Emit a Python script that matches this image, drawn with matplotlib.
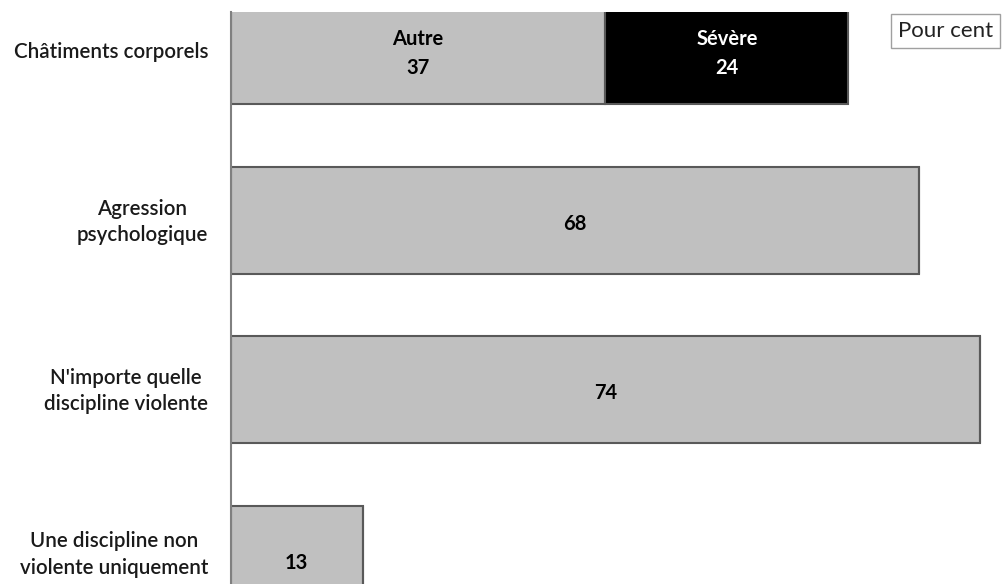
import matplotlib
matplotlib.use("Agg")
import matplotlib.pyplot as plt
from matplotlib.transforms import offset_copy

categories = ["Châtiments corporels", "Agression\npsychologique",
              "N'importe quelle\ndiscipline violente", "Une discipline non\nviolente uniquement"]
autre = [37, 68, 74, 13]
severe = [24, 0, 0, 0]
autre_labels = ["Autre\n37", "68", "74", "13"]
severe_labels = ["Sévère\n24", "", "", ""]

W, H = 1005, 584
fig = plt.figure(figsize=(W / 100, H / 100), dpi=100)
ax = fig.add_axes([231 / W, 0, 1 - 231 / W, 1 - 12 / H])

font = "Lato"
y = list(range(len(categories)))
bh = 0.63
ax.barh(y, autre, height=bh, color="#C0C0C0", edgecolor="#595959", linewidth=1.5)
ax.barh(y, severe, left=autre, height=bh, color="#000000", edgecolor="#595959", linewidth=1.5)

for i in y:
    ax.text(autre[i] / 2, i + 0.02, autre_labels[i], ha="center", va="center",
            fontsize=14.5, fontweight="bold", color="#000000", family=font, linespacing=1.55)
    if severe[i] > 0:
        ax.text(autre[i] + severe[i] / 2, i + 0.02, severe_labels[i], ha="center", va="center",
                fontsize=14.5, fontweight="bold", color="#FFFFFF", family=font, linespacing=1.55)

ax.set_xlim(0, 774 / 10.12)
ax.set_ylim(3 + (584 - 559.5) / 169.7, -38.5 / 169.7)
ax.set_yticks([])
ax.set_xticks([])

label_dy = [-2, -2, -1, 5]  # pixel lift of each category label
base = ax.get_yaxis_transform()
for i in y:
    tr = offset_copy(base, fig=fig, x=-23, y=label_dy[i], units="dots")
    ax.text(0, i, categories[i], transform=tr, ha="right", va="center",
            multialignment="center", family=font, fontsize=14.8, fontweight="semibold",
            linespacing=1.4, color="#1a1a1a", clip_on=False)

for s in ["top", "right", "bottom"]:
    ax.spines[s].set_visible(False)
ax.spines["left"].set_color("#808080")
ax.spines["left"].set_linewidth(1.5)

fig.text(898 / W, 1 - 31 / H, "Pour cent", ha="left", va="center", fontsize=16, family=font,
         color="#222222",
         bbox=dict(boxstyle="square,pad=0.3", facecolor="white", edgecolor="#A0A0A0", linewidth=1))

fig.savefig("out.png", dpi=100)
